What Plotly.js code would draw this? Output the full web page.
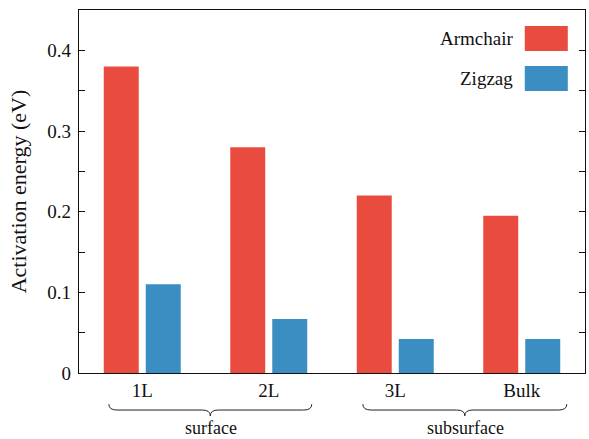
<!DOCTYPE html>
<html><head><meta charset="utf-8">
<script src="https://cdn.plot.ly/plotly-3.0.1.min.js"></script>
<style>body{margin:0;padding:0;background:#fff}#chart{width:589px;height:439px}</style>
</head><body><div id="chart"></div>
<script>
const categories = ["1L", "2L", "3L", "Bulk"];
const armchair = [0.38, 0.28, 0.22, 0.195];
const zigzag = [0.11, 0.067, 0.042, 0.042];
const seriesNames = ["Armchair", "Zigzag"];
const groupLabels = ["surface", "subsurface"];

const RED = "#e94c3f", BLUE = "#3a8ec2";
const FONT = "Liberation Serif, Times New Roman, serif";

const traces = [
  {type: "bar", x: categories, y: armchair, name: seriesNames[0], marker: {color: RED}, showlegend: false},
  {type: "bar", x: categories, y: zigzag, name: seriesNames[1], marker: {color: BLUE}, showlegend: false}
];

function brace(x0, x1) {
  const yt = -0.086, ym = -0.102, yb = -0.118, d = 0.016;
  const xm = (x0 + x1) / 2;
  return `M ${x0},${yt} Q ${x0},${ym} ${x0 + d},${ym} L ${xm - d},${ym} Q ${xm},${ym} ${xm},${yb} Q ${xm},${ym} ${xm + d},${ym} L ${x1 - d},${ym} Q ${x1},${ym} ${x1},${yt}`;
}

const shapes = [
  {type: "path", xref: "paper", yref: "paper", path: brace(0.059, 0.460), line: {color: "#222", width: 1}},
  {type: "path", xref: "paper", yref: "paper", path: brace(0.561, 0.964), line: {color: "#222", width: 1}},
  {type: "rect", xref: "paper", yref: "paper", x0: 0.881, x1: 0.966, y0: 0.887, y1: 0.956, fillcolor: RED, line: {width: 0}},
  {type: "rect", xref: "paper", yref: "paper", x0: 0.881, x1: 0.966, y0: 0.777, y1: 0.846, fillcolor: BLUE, line: {width: 0}}
];

const annotations = [
  {xref: "paper", yref: "paper", x: 0.862, y: 0.921, text: seriesNames[0], showarrow: false, xanchor: "right", yanchor: "middle", font: {family: FONT, size: 19, color: "#111"}},
  {xref: "paper", yref: "paper", x: 0.862, y: 0.811, text: seriesNames[1], showarrow: false, xanchor: "right", yanchor: "middle", font: {family: FONT, size: 19, color: "#111"}},
  {xref: "paper", yref: "paper", x: 0.26, y: -0.152, text: groupLabels[0], showarrow: false, xanchor: "center", yanchor: "middle", font: {family: FONT, size: 18, color: "#111"}},
  {xref: "paper", yref: "paper", x: 0.763, y: -0.152, text: groupLabels[1], showarrow: false, xanchor: "center", yanchor: "middle", font: {family: FONT, size: 18, color: "#111"}}
];

const layout = {
  width: 589, height: 439,
  margin: {l: 79, r: 4, t: 10, b: 66},
  paper_bgcolor: "#fff", plot_bgcolor: "#fff",
  barmode: "group", bargap: 0.336, bargroupgap: 0.167,
  font: {family: FONT, color: "#111"},
  xaxis: {
    showline: true, mirror: true, linecolor: "#111", linewidth: 1.2,
    ticks: "", showgrid: false, zeroline: false,
    tickfont: {family: FONT, size: 19, color: "#111"}
  },
  yaxis: {
    range: [0, 0.45], dtick: 0.1, tick0: 0,
    showline: true, mirror: "allticks", linecolor: "#111", linewidth: 1.2,
    ticks: "inside", ticklen: 6, tickcolor: "#111",
    minor: {dtick: 0.05, ticks: "inside", ticklen: 6, tickcolor: "#111"},
    showgrid: false, zeroline: false, ticklabelstandoff: 3,
    tickfont: {family: FONT, size: 19, color: "#111"},
    title: {text: "Activation energy (eV)", font: {family: FONT, size: 22, color: "#111"}, standoff: 14}
  },
  shapes: shapes,
  annotations: annotations
};

Plotly.newPlot("chart", traces, layout, {displayModeBar: false, staticPlot: true});
</script></body></html>
